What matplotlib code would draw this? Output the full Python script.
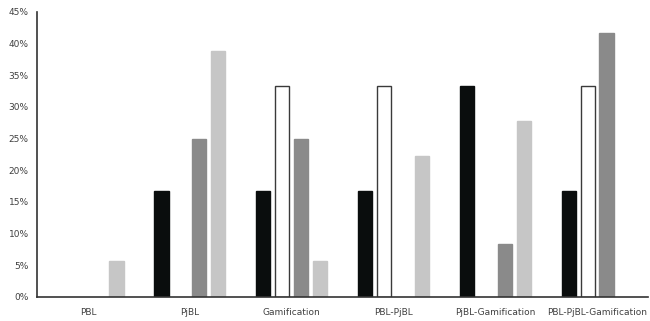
import matplotlib
matplotlib.use("Agg")
import matplotlib.pyplot as plt
import numpy as np
from matplotlib.ticker import PercentFormatter

categories = ["PBL", "PjBL", "Gamification", "PBL-PjBL", "PjBL-Gamification", "PBL-PjBL-Gamification"]
black_vals = [0, 16.7, 16.7, 16.7, 33.3, 16.7]
white_vals = [0, 0, 33.3, 33.3, 0, 33.3]
gray_vals = [0, 25.0, 25.0, 0, 8.3, 41.7]
light_vals = [5.6, 38.9, 5.6, 22.2, 27.8, 0]

fig = plt.figure(figsize=(6.5, 3.21), dpi=100)
ax = fig.add_axes([0.057, 0.075, 0.94, 0.888])

x = np.arange(len(categories))
slot = 0.186
width = 0.14
series = [
    (black_vals, "#0a0d0d", "#0a0d0d"),
    (white_vals, "white", "#3a3a3a"),
    (gray_vals, "#8a8a8a", "#8a8a8a"),
    (light_vals, "#c6c6c6", "#c6c6c6"),
]
for i, (vals, fc, ec) in enumerate(series):
    offs = (i - 1.5) * slot
    v = np.array(vals)
    mask = v > 0
    ax.bar(x[mask] + offs, v[mask], width=width, color=fc, edgecolor=ec, linewidth=1.0)

ax.set_xlim(-0.5, len(categories) - 0.5)
ax.set_ylim(0, 45)
ax.set_yticks(np.arange(0, 46, 5))
ax.yaxis.set_major_formatter(PercentFormatter(decimals=0))
ax.set_xticks(x)
ax.set_xticklabels(categories)
ax.tick_params(length=0, labelsize=6.5, labelcolor="#404040", pad=6)
ax.tick_params(axis="x", pad=8)
for s in ["top", "right"]:
    ax.spines[s].set_visible(False)
for s in ["left", "bottom"]:
    ax.spines[s].set_color("#333333")
    ax.spines[s].set_linewidth(1.2)

fig.savefig("out.png", dpi=100)
